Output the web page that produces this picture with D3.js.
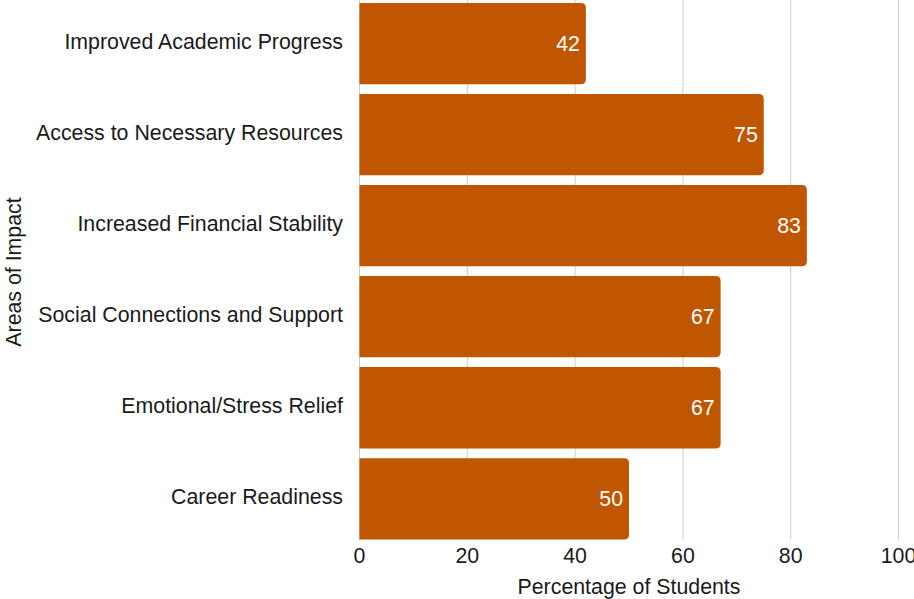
<!DOCTYPE html>
<html>
<head>
<meta charset="utf-8">
<script src="https://cdn.jsdelivr.net/npm/d3@7"></script>
<style>
  body { margin: 0; background: #fff; }
  text { font-family: "Liberation Sans", Arial, sans-serif; }
</style>
</head>
<body>
<svg id="chart"></svg>
<script>
const categories = [
    "Improved Academic Progress",
    "Access to Necessary Resources",
    "Increased Financial Stability",
    "Social Connections and Support",
    "Emotional/Stress Relief",
    "Career Readiness"
];
const percentages = [42, 75, 83, 67, 67, 50];
const xTicks = [0, 20, 40, 60, 80, 100];

const width = 914, height = 599;
const barColor = "#c05600";
const fontSize = "21.33px";

const svg = d3.select("#chart")
    .attr("width", width)
    .attr("height", height);

const xScale = d3.scaleLinear().domain([0, 100]).range([359.5, 898.5]);
const yScale = d3.scaleBand()
    .domain(categories)
    .range([-1.6, 544])
    .paddingInner(0.107)
    .paddingOuter(0.05);

const plotBottom = 539.5;

// gridlines
svg.append("g")
    .selectAll("line")
    .data(xTicks)
    .join("line")
    .attr("x1", d => xScale(d))
    .attr("x2", d => xScale(d))
    .attr("y1", 0)
    .attr("y2", plotBottom)
    .attr("stroke", "#cccccc")
    .attr("stroke-width", 1);

// bars, right side rounded
const r = 5;
svg.append("g")
    .selectAll("path")
    .data(categories)
    .join("path")
    .attr("fill", barColor)
    .attr("d", (d, i) => {
        const x0 = xScale(0), x1 = xScale(percentages[i]);
        const y0 = yScale(d), h = yScale.bandwidth();
        return `M${x0},${y0}H${x1 - r}Q${x1},${y0} ${x1},${y0 + r}` +
            `V${y0 + h - r}Q${x1},${y0 + h} ${x1 - r},${y0 + h}H${x0}Z`;
    });

// value labels
svg.append("g")
    .selectAll("text")
    .data(categories)
    .join("text")
    .attr("x", (d, i) => xScale(percentages[i]) - 6)
    .attr("y", d => yScale(d) + yScale.bandwidth() / 2)
    .attr("dy", "0.35em")
    .attr("text-anchor", "end")
    .attr("fill", "#ffffff")
    .attr("font-size", fontSize)
    .text((d, i) => percentages[i]);

// category labels
svg.append("g")
    .selectAll("text")
    .data(categories)
    .join("text")
    .attr("x", 343)
    .attr("y", d => yScale(d) + yScale.bandwidth() / 2 - 2)
    .attr("dy", "0.35em")
    .attr("text-anchor", "end")
    .attr("fill", "#1a1a1a")
    .attr("font-size", fontSize)
    .text(d => d);

// x tick labels
svg.append("g")
    .selectAll("text")
    .data(xTicks)
    .join("text")
    .attr("x", d => xScale(d))
    .attr("y", 556)
    .attr("dy", "0.35em")
    .attr("text-anchor", "middle")
    .attr("fill", "#1a1a1a")
    .attr("font-size", fontSize)
    .text(d => d);

// axis titles
svg.append("text")
    .attr("x", 629)
    .attr("y", 587)
    .attr("dy", "0.35em")
    .attr("text-anchor", "middle")
    .attr("fill", "#1a1a1a")
    .attr("font-size", fontSize)
    .text("Percentage of Students");

svg.append("text")
    .attr("transform", "translate(14,272) rotate(-90)")
    .attr("dy", "0.35em")
    .attr("text-anchor", "middle")
    .attr("fill", "#1a1a1a")
    .attr("font-size", fontSize)
    .text("Areas of Impact");
</script>
</body>
</html>
